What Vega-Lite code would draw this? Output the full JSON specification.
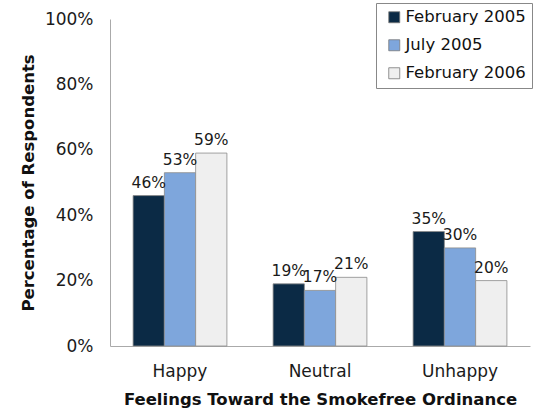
{
  "$schema": "https://vega.github.io/schema/vega-lite/v6.json",
  "width": 420,
  "height": 327,
  "autosize": {"type": "none"},
  "padding": {"left": 110, "top": 19, "right": 4, "bottom": 68},
  "background": "white",
  "config": {
    "view": {"stroke": null},
    "font": "DejaVu Sans",
    "axis": {"labelFont": "DejaVu Sans", "titleFont": "DejaVu Sans", "labelColor": "#1a1a1a", "titleColor": "#111"},
    "legend": {"labelFont": "DejaVu Sans"}
  },
  "data": {
    "values": [
      {"feeling": "Happy", "period": "February 2005", "pct": 0.46},
      {"feeling": "Happy", "period": "July 2005", "pct": 0.53},
      {"feeling": "Happy", "period": "February 2006", "pct": 0.59},
      {"feeling": "Neutral", "period": "February 2005", "pct": 0.19},
      {"feeling": "Neutral", "period": "July 2005", "pct": 0.17},
      {"feeling": "Neutral", "period": "February 2006", "pct": 0.21},
      {"feeling": "Unhappy", "period": "February 2005", "pct": 0.35},
      {"feeling": "Unhappy", "period": "July 2005", "pct": 0.30},
      {"feeling": "Unhappy", "period": "February 2006", "pct": 0.20}
    ]
  },
  "encoding": {
    "x": {
      "field": "feeling", "type": "nominal", "sort": ["Happy", "Neutral", "Unhappy"],
      "scale": {"paddingInner": 0.33, "paddingOuter": 0.165},
      "axis": {
        "title": "Feelings Toward the Smokefree Ordinance",
        "titleFontSize": 16.5, "titleFontWeight": "bold", "titlePadding": 12,
        "labelFontSize": 17, "labelAngle": 0, "labelPadding": 17,
        "ticks": false, "domainColor": "#aaa", "domainWidth": 1
      }
    },
    "xOffset": {"field": "period", "type": "nominal", "sort": ["February 2005", "July 2005", "February 2006"]},
    "y": {
      "field": "pct", "type": "quantitative",
      "scale": {"domain": [0, 1]},
      "axis": {
        "title": "Percentage of Respondents",
        "titleFontSize": 16.5, "titleFontWeight": "bold", "titlePadding": 8,
        "labelFontSize": 17, "labelPadding": 17, "format": ".0%",
        "values": [0, 0.2, 0.4, 0.6, 0.8, 1.0],
        "grid": false, "ticks": false, "domainColor": "#aaa", "domainWidth": 1
      }
    }
  },
  "layer": [
    {
      "mark": {"type": "bar", "stroke": "#8a8a8a", "strokeWidth": 0.8},
      "encoding": {
        "color": {
          "field": "period", "type": "nominal",
          "sort": ["February 2005", "July 2005", "February 2006"],
          "scale": {"domain": ["February 2005", "July 2005", "February 2006"], "range": ["#0b2a45", "#7ea6dc", "#efefef"]},
          "legend": {
            "title": null, "orient": "none", "legendX": 266, "legendY": -16,
            "symbolType": "square", "symbolSize": 121, "symbolStrokeColor": "#777", "symbolStrokeWidth": 0.8,
            "symbolOffset": 4,
            "labelFontSize": 16.5, "labelColor": "#111", "rowPadding": 11, "labelOffset": 3,
            "strokeColor": "#888", "padding": 6, "fillColor": "white"
          }
        }
      }
    },
    {
      "mark": {"type": "text", "baseline": "alphabetic", "dy": -8, "fontSize": 15.5, "color": "#1a1a1a"},
      "encoding": {"text": {"field": "pct", "type": "quantitative", "format": ".0%"}}
    }
  ]
}
